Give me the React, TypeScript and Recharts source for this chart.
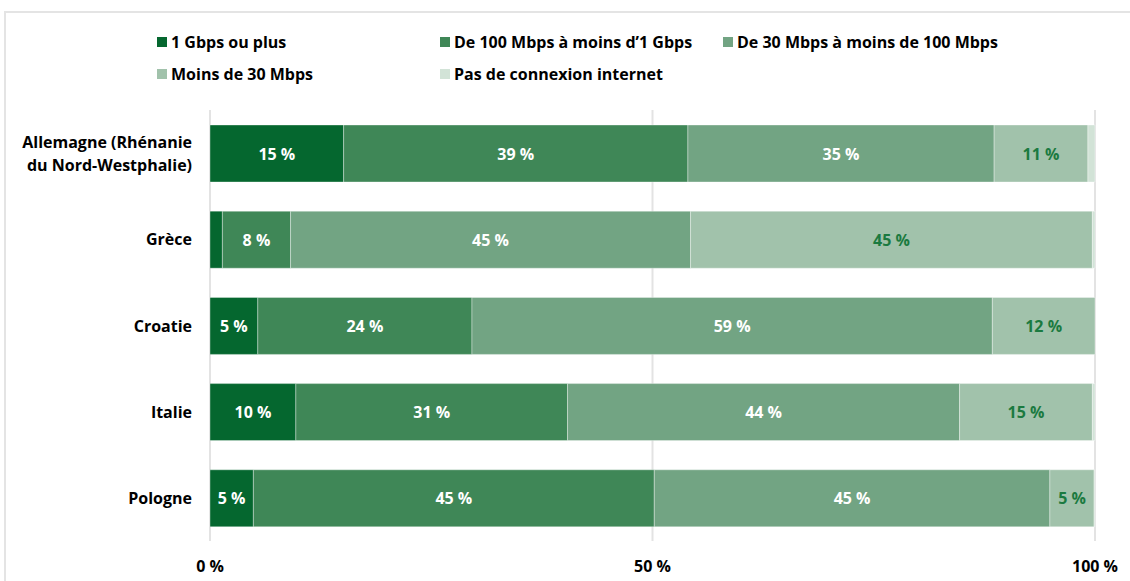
import { Bar, BarChart, CartesianGrid, LabelList, XAxis, YAxis } from "recharts";

const categories = [
  "Allemagne (Rhénanie du Nord-Westphalie)",
  "Grèce",
  "Croatie",
  "Italie",
  "Pologne",
];

// Share of households per connection speed, in %
const gbps1Plus = [15.1, 1.4, 5.4, 9.7, 4.9];
const mbps100To1G = [38.9, 7.7, 24.2, 30.7, 45.3];
const mbps30To100 = [34.6, 45.2, 58.8, 44.3, 44.7];
const under30 = [10.6, 45.4, 11.6, 15.0, 5.0];
const noInternet = [0.8, 0.3, 0, 0.3, 0.1];

const xTicks = [0, 50, 100];

const series = [
  { key: "g1", name: "1 Gbps ou plus", values: gbps1Plus, color: "#05672f", text: "#ffffff" },
  { key: "m100", name: "De 100 Mbps à moins d’1 Gbps", values: mbps100To1G, color: "#3f8757", text: "#ffffff" },
  { key: "m30", name: "De 30 Mbps à moins de 100 Mbps", values: mbps30To100, color: "#72a483", text: "#ffffff" },
  { key: "lt30", name: "Moins de 30 Mbps", values: under30, color: "#a1c2ab", text: "#1b7a40" },
  { key: "none", name: "Pas de connexion internet", values: noInternet, color: "#d2e3d7", text: "#1b7a40" },
];

const data = categories.map((name, i) => {
  const row: Record<string, string | number> = { name };
  series.forEach((s) => (row[s.key] = s.values[i]));
  return row;
});

const FONT = "'Open Sans', sans-serif";
const FS = 16;

const wrap = (label: string, max = 20): string[] => {
  const lines: string[] = [];
  let cur = "";
  label.split(" ").forEach((w) => {
    if (cur && (cur + " " + w).length > max) {
      lines.push(cur);
      cur = w;
    } else {
      cur = cur ? cur + " " + w : w;
    }
  });
  if (cur) lines.push(cur);
  return lines;
};

const CategoryTick = (props: any) => {
  const { x, y, payload } = props;
  const lines = wrap(payload.value);
  const lh = 23;
  const start = y - ((lines.length - 1) * lh) / 2;
  return (
    <text
      x={x - 10}
      y={start}
      textAnchor="end"
      dominantBaseline="central"
      fontFamily={FONT}
      fontWeight={700}
      fontSize={FS}
      fill="#000"
    >
      {lines.map((l, i) => (
        <tspan key={i} x={x - 10} y={start + i * lh}>
          {l}
        </tspan>
      ))}
    </text>
  );
};

const PercentTick = (props: any) => {
  const { x, y, payload } = props;
  return (
    <text
      x={x}
      y={y + 17}
      textAnchor="middle"
      dominantBaseline="central"
      fontFamily={FONT}
      fontWeight={700}
      fontSize={FS}
      fill="#000"
    >
      {`${payload.value}\u00a0%`}
    </text>
  );
};

const makeLabel = (color: string) => (props: any) => {
  const { x, y, width, height, value } = props;
  if (value < 3) return null;
  return (
    <text
      x={x + width / 2}
      y={y + height / 2}
      textAnchor="middle"
      dominantBaseline="central"
      fontFamily={FONT}
      fontWeight={700}
      fontSize={FS}
      fill={color}
    >
      {`${Math.round(value)}\u00a0%`}
    </text>
  );
};

const SpeedLegend = () => (
  <div
    style={{
      position: "absolute",
      left: 157,
      top: 26,
      width: 860,
      display: "flex",
      flexWrap: "wrap",
    }}
  >
    {series.map((s) => (
      <div
        key={s.key}
        style={{
          width: 283,
          height: 32,
          display: "flex",
          alignItems: "center",
          fontFamily: FONT,
          fontWeight: 700,
          fontSize: FS,
          color: "#000",
          whiteSpace: "nowrap",
        }}
      >
        <span style={{ width: 10, height: 10, background: s.color, marginRight: 4, flexShrink: 0 }} />
        {s.name}
      </div>
    ))}
  </div>
);

export default function App() {
  return (
    <div
      style={{
        position: "absolute",
        left: 0,
        top: 0,
        width: 1130,
        height: 581,
        overflow: "hidden",
        background: "#fff",
      }}
    >
      <div
        style={{
          position: "absolute",
          left: 4,
          top: 11,
          width: 1200,
          height: 700,
          borderTop: "2px solid #e4e4e4",
          borderLeft: "2px solid #e4e4e4",
        }}
      />
      <SpeedLegend />
      <BarChart
        width={1130}
        height={581}
        data={data}
        layout="vertical"
        margin={{ top: 110, right: 35, bottom: 0, left: 10 }}
        barSize={57}
        style={{ position: "absolute", left: 0, top: 0 }}
      >
        <CartesianGrid horizontal={false} stroke="#e3e3e3" strokeWidth={2} />
        <XAxis
          type="number"
          domain={[0, 100]}
          ticks={xTicks}
          height={40}
          axisLine={false}
          tickLine={false}
          tick={<PercentTick />}
        />
        <YAxis
          type="category"
          dataKey="name"
          width={200}
          axisLine={false}
          tickLine={false}
          tick={<CategoryTick />}
        />
        {series.map((s) => (
          <Bar
            key={s.key}
            dataKey={s.key}
            name={s.name}
            stackId="a"
            fill={s.color}
            stroke="rgba(255,255,255,0.35)"
            strokeWidth={1}
            isAnimationActive={false}
          >
            <LabelList dataKey={s.key} content={makeLabel(s.text)} />
          </Bar>
        ))}
      </BarChart>
    </div>
  );
}
